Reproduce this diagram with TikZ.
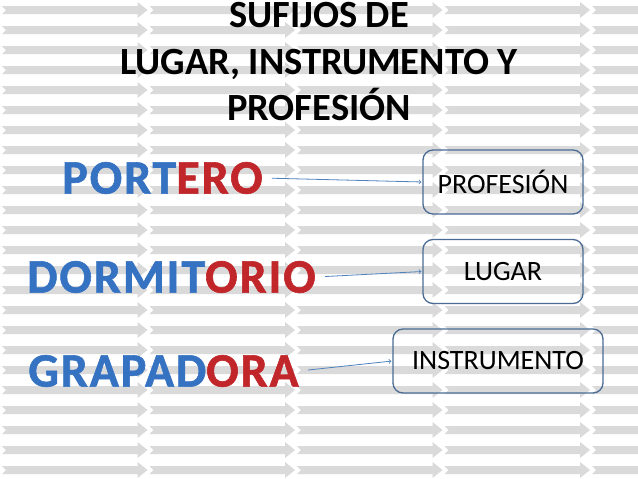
\documentclass[tikz,border=0pt]{standalone}
\usepackage{fontspec}
\setmainfont{Carlito}
\newfontfamily\wordfont[LetterSpace=4.0, FakeBold=1.2]{Carlito}
\usetikzlibrary{arrows}
\definecolor{bgGray}{HTML}{DADADA}
\definecolor{sufBlue}{HTML}{3572C2}
\definecolor{sufRed}{HTML}{C0262A}
\definecolor{boxBlue}{HTML}{4A6B94}
\definecolor{lineBlue}{HTML}{4F81BD}
\newcommand{\sufword}[2]{\textcolor{sufBlue}{#1}\textcolor{sufRed}{#2}}

\begin{document}
\begin{tikzpicture}[
        x=1pt, y=-1pt,
        stripe/.style={fill=bgGray},
        word/.style={font=\wordfont\bfseries\fontsize{48}{52}\selectfont, inner sep=0pt},
        suffix/.style={rectangle, rounded corners=10pt, draw=boxBlue, line width=1.3pt, minimum height=64pt, minimum width=160pt, font=\fontsize{28}{32}\selectfont, align=center},
        link/.style={->, >=to, draw=lineBlue, line width=0.8pt, shorten <=9pt, shorten >=1pt},
        title/.style={font=\bfseries\fontsize{38.5}{46.5}\selectfont, align=center, inner sep=0pt}
    ]
        \useasboundingbox[fill=white] (0,0) rectangle (638,479);

        % --- background of grey arrows ---
        \foreach \row in {0,...,23} {
            \foreach \col [evaluate=\col as \tip using 147.5*(\col+1)] in {0,...,4} {
                \fill[stripe] ({\tip-145.5},{10+20*\row-4}) -- ({\tip-10},{10+20*\row-4})
                    -- ({\tip-10},{10+20*\row-8}) -- (\tip,{10+20*\row})
                    -- ({\tip-10},{10+20*\row+8}) -- ({\tip-10},{10+20*\row+4})
                    -- ({\tip-145.5},{10+20*\row+4}) -- ({\tip-141.5},{10+20*\row}) -- cycle;
            }
        }

        % --- title ---
        \node[title] (head) at (319, 62) {SUFIJOS DE\\LUGAR, INSTRUMENTO Y\\PROFESIÓN};

        % --- words ---
        \node[word] (port) at (162.5, 178) {\sufword{PORT}{ERO}};
        \node[word] (dorm) at (171.5, 277) {\sufword{DORMIT}{ORIO}};
        \node[word] (grap) at (163.5, 371) {\sufword{GRAPAD}{ORA}};

        % --- meanings ---
        \node[suffix] (prof) at (503, 182) {PROFESIÓN};
        \node[suffix] (lug)  at (503, 271.5) {LUGAR};
        \node[suffix, minimum width=210pt] (inst) at (498, 361) {INSTRUMENTO};

        \draw[link] (port.east) -- (prof.west);
        \draw[link] (dorm.east) -- (lug.west);
        \draw[link] (grap.east) -- (inst.west);
    \end{tikzpicture}
\end{document}
